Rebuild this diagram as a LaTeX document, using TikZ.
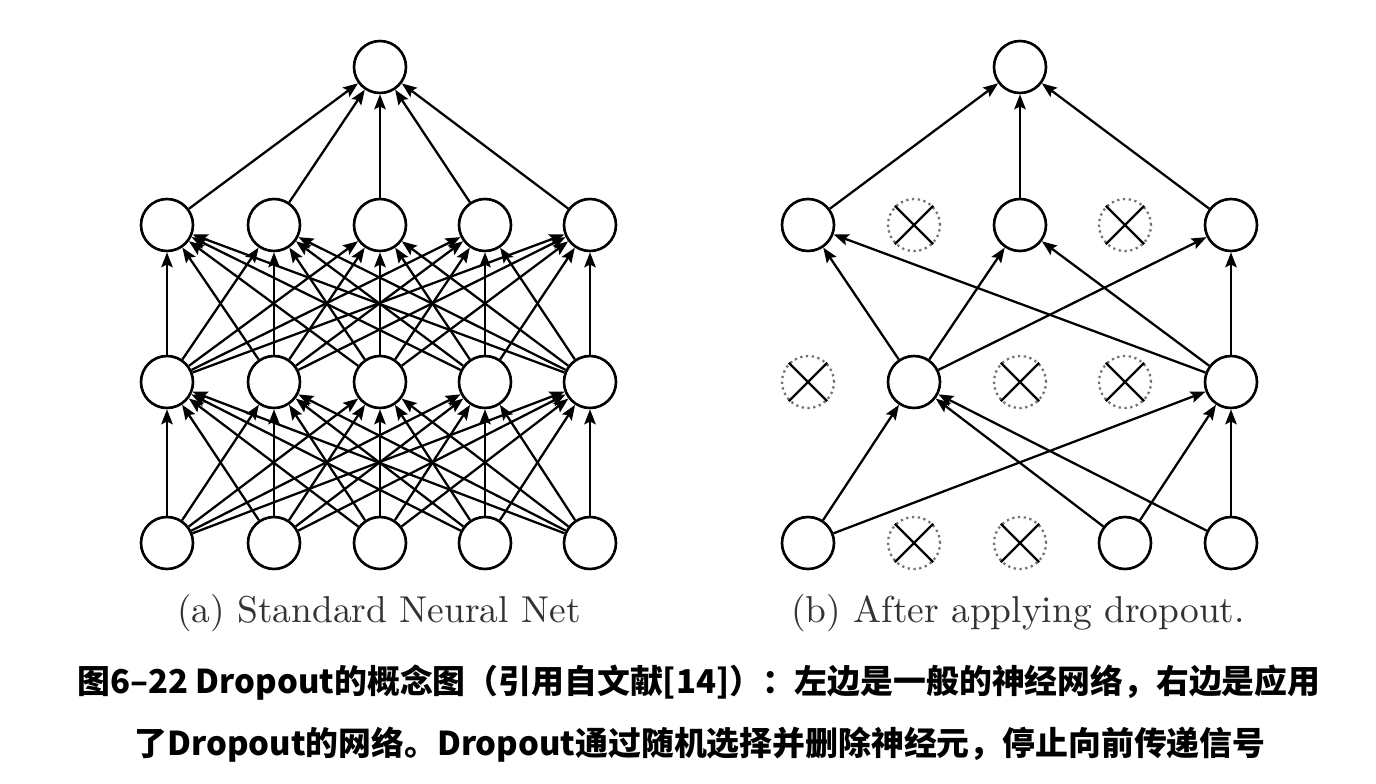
\documentclass[tikz,border=0pt]{standalone}
\usepackage{fontspec}
\newfontfamily\cjk{Noto Sans CJK SC}
\newfontfamily\cmten{lmroman10-regular.otf}
\usetikzlibrary{arrows.meta}
\definecolor{capgray}{HTML}{333333}

\begin{document}
\begin{tikzpicture}[x=0.02cm,y=-0.02cm,>={Stealth[length=8.5pt,width=6.5pt,inset=1.5pt]},
  unit/.style={circle,draw,line width=1.5pt,minimum size=1.04cm,inner sep=0pt},
  dropped/.style={circle,draw=black!55,dotted,line width=1.3pt,minimum size=1.04cm,inner sep=0pt},
  conn/.style={->,line width=1.3pt},
  sub/.style={font=\cmten\fontsize{21.3}{26}\selectfont,text=capgray},
  figcap/.style={font=\cjk\bfseries\fontsize{18.7}{23}\selectfont}]
  \useasboundingbox (0,0) rectangle (1376,784);

  % (a) standard net
  \foreach \i/\x in {1/167, 2/274, 3/380, 4/485, 5/590} {
    \node[unit] (in\i) at (\x,543) {};
    \node[unit] (hA\i) at (\x,382) {};
    \node[unit] (hB\i) at (\x,225) {};
  }
  \node[unit] (out) at (380,67) {};
  \foreach \i in {1,...,5} {
    \foreach \j in {1,...,5} {
      \draw[conn] (in\i) -- (hA\j);
      \draw[conn] (hA\i) -- (hB\j);
    }
    \draw[conn] (hB\i) -- (out);
  }

  % (b) thinned net
  \foreach \i/\x in {1/808, 4/1125, 5/1231}
    \node[unit] (rin\i) at (\x,543) {};
  \foreach \i/\x in {2/914, 5/1231}
    \node[unit] (rhA\i) at (\x,382) {};
  \foreach \i/\x in {1/808, 3/1020, 5/1231}
    \node[unit] (rhB\i) at (\x,225) {};
  \node[unit] (rout) at (1020,67) {};

  \foreach \n/\x/\y in {xin2/914/543, xin3/1020/543, xhA1/808/382, xhA3/1020/382,
                        xhA4/1125/382, xhB2/914/225, xhB4/1125/225} {
    \node[dropped] (\n) at (\x,\y) {};
    \draw[line width=1.3pt] (\n.north east) -- (\n.south west)
                            (\n.north west) -- (\n.south east);
  }

  \foreach \a/\b in {rin1/rhA2, rin1/rhA5, rin4/rhA2, rin4/rhA5, rin5/rhA2, rin5/rhA5,
                     rhA2/rhB1, rhA2/rhB3, rhA2/rhB5, rhA5/rhB1, rhA5/rhB3, rhA5/rhB5,
                     rhB1/rout, rhB3/rout, rhB5/rout}
    \draw[conn] (\a) -- (\b);

  % captions
  \node[sub] (suba) at (379,613) {(a) Standard Neural Net};
  \node[sub] (subb) at (1018,613) {(b) After applying dropout.};
  \node[figcap] (cap1) at (699,683) {图6–22 Dropout的概念图（引用自文献[14]）：左边是一般的神经网络，右边是应用};
  \node[figcap] (cap2) at (700,745) {了Dropout的网络。Dropout通过随机选择并删除神经元，停止向前传递信号};
\end{tikzpicture}
\end{document}
